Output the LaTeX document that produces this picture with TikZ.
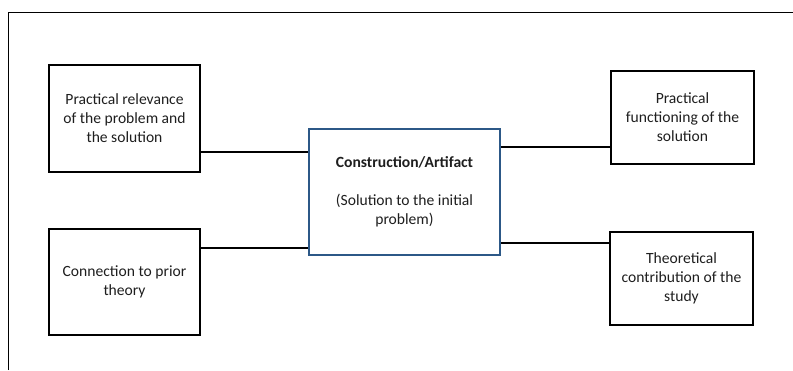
\documentclass[tikz,border=0pt]{standalone}
\usepackage{fontspec}
\setmainfont{Carlito}
\definecolor{artblue}{RGB}{44,88,135}
\definecolor{txt}{RGB}{30,30,30}
\begin{document}
\begin{tikzpicture}[x=1pt,y=-1pt,
  box/.style={draw=black, line width=2pt, align=center, inner sep=0pt, text=txt,
    font=\fontsize{15.6}{19}\selectfont},
  link/.style={draw=black, line width=1.1pt}]
\useasboundingbox (0,0) rectangle (793,370);
\draw[line width=1pt] (8,370) -- (8,12) -- (793,12);
\node[box, minimum width=151pt, minimum height=107pt] (tl) at (124.5,118.5)
  {Practical relevance\\of the problem and\\the solution};
\node[box, minimum width=151pt, minimum height=106pt] (bl) at (124.5,282)
  {Connection to prior\\theory};
\node[box, draw=artblue, minimum width=191pt, minimum height=126pt] (c) at (404.5,192)
  {\textbf{Construction/Artifact}\\[19pt](Solution to the initial\\problem)};
\node[box, minimum width=143pt, minimum height=93pt] (tr) at (682.5,117.5)
  {Practical\\functioning of the\\solution};
\node[box, minimum width=143pt, minimum height=93pt] (br) at (681.5,278.5)
  {Theoretical\\contribution of the\\study};
\draw[link] (tl.east |- 0,152) -- (c.west |- 0,152);
\draw[link] (bl.east |- 0,248) -- (c.west |- 0,248);
\draw[link] (c.east |- 0,147) -- (tr.west |- 0,147);
\draw[link] (c.east |- 0,243) -- (br.west |- 0,243);
\end{tikzpicture}
\end{document}
